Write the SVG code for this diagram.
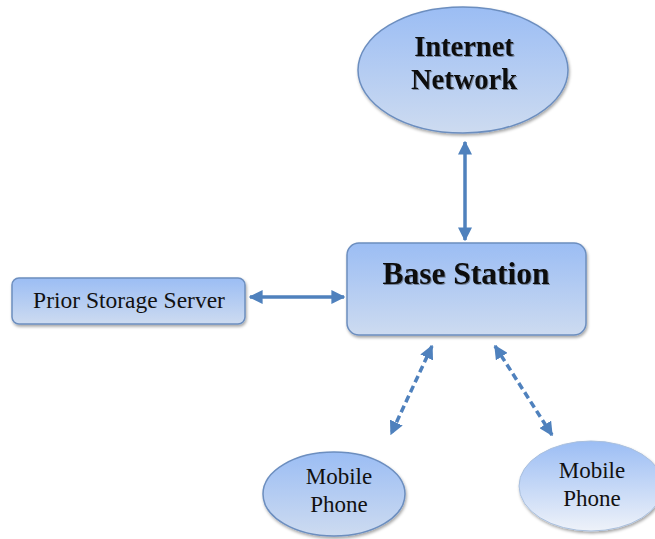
<svg xmlns="http://www.w3.org/2000/svg" width="655" height="539" viewBox="0 0 655 539">
<defs>
<linearGradient id="g1" x1="0" y1="0" x2="0" y2="1">
<stop offset="0" stop-color="#9bbdf4"/>
<stop offset="1" stop-color="#cddbf0"/>
</linearGradient>
<linearGradient id="g2" x1="0" y1="0" x2="0" y2="1">
<stop offset="0" stop-color="#9bbdf4"/>
<stop offset="1" stop-color="#eef2f9"/>
</linearGradient>
<filter id="sh" x="-10%" y="-10%" width="125%" height="130%">
<feDropShadow dx="1" dy="2" stdDeviation="1.5" flood-color="#000" flood-opacity="0.35"/>
</filter>
<filter id="tsh" x="-10%" y="-20%" width="120%" height="150%">
<feDropShadow dx="1" dy="1" stdDeviation="0.6" flood-color="#000" flood-opacity="0.35"/>
</filter>
<marker id="ah" viewBox="0 0 10 10" refX="9" refY="5" markerWidth="4" markerHeight="4" orient="auto-start-reverse">
<path d="M0,0 L10,5 L0,10 z" fill="#4f81bd"/>
</marker>
</defs>
<style>
.shape{fill:url(#g1);stroke:#6c8ebf;stroke-width:1.5;filter:url(#sh)}
.shape2{fill:url(#g2);stroke:#a9bfdd;stroke-width:1;filter:url(#sh)}
.t{font-family:"Liberation Serif","Times New Roman",serif;fill:#111;text-anchor:middle}
.b{font-weight:bold;filter:url(#tsh)}
.c{stroke:#4f81bd;stroke-width:3.5;fill:none;marker-start:url(#ah);marker-end:url(#ah)}
.d{stroke-dasharray:7 4}
</style>
<g id="connectors">
<line class="c" x1="465" y1="142" x2="465" y2="240"/>
<line class="c" x1="250" y1="297" x2="344" y2="297"/>
<line class="c d" x1="432" y1="346" x2="391" y2="434"/>
<line class="c d" x1="495" y1="346" x2="552" y2="435"/>
</g>
<g id="internet">
<ellipse class="shape" cx="463" cy="70" rx="105" ry="63"/>
<text class="t b" x="464" y="56" font-size="28.5">Internet</text>
<text class="t b" x="464" y="89" font-size="28.5">Network</text>
</g>
<g id="base">
<rect class="shape" x="347" y="243" width="239" height="92" rx="12"/>
<text class="t b" x="466" y="284" font-size="31.5">Base Station</text>
</g>
<g id="storage">
<rect class="shape" x="12" y="278" width="233" height="46" rx="7"/>
<text class="t" x="129" y="308" font-size="23.5">Prior Storage Server</text>
</g>
<g id="mobile1">
<ellipse class="shape" cx="334" cy="494" rx="71" ry="42"/>
<text class="t" x="339" y="484" font-size="23">Mobile</text>
<text class="t" x="339" y="512" font-size="23">Phone</text>
</g>
<g id="mobile2">
<ellipse class="shape2" cx="591" cy="486" rx="72" ry="45"/>
<text class="t" x="592" y="478" font-size="23">Mobile</text>
<text class="t" x="592" y="506" font-size="23">Phone</text>
</g>
</svg>
